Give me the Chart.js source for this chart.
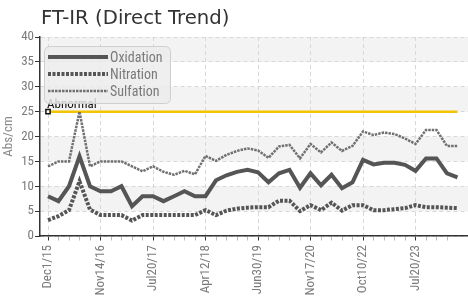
<!DOCTYPE html>
<html>
<head>
<meta charset="utf-8">
<script src="https://cdn.jsdelivr.net/npm/chart.js@4/dist/chart.umd.min.js"></script>
<style>
  html, body { margin: 0; padding: 0; background: #fff; }
  #wrap { position: relative; width: 468px; height: 298px; }
</style>
</head>
<body>
<div id="wrap"><canvas id="c" width="468" height="298"></canvas></div>
<script>
// ---- data ----
const chartTitle = "FT-IR (Direct Trend)";
const yAxisTitle = "Abs/cm";
const seriesNames = ["Oxidation", "Nitration", "Sulfation"];
const tickLabels = ["Dec1/15", "Nov14/16", "Jul20/17", "Apr12/18", "Jun30/19", "Nov17/20", "Oct10/22", "Jul20/23"];
const labelEvery = 5;
const oxidation = [8, 7, 10, 16, 10, 9, 9, 10, 6, 8,
                   8, 7, 8, 9, 8, 8, 11.2, 12.2, 12.9, 13.3,
                   12.8, 10.8, 12.6, 13.3, 9.7, 12.6, 10.2, 12.3, 9.6, 10.8,
                   15.3, 14.4, 14.7, 14.7, 14.3, 13.1, 15.6, 15.6, 12.6, 11.8];
const nitration = [3.2, 4, 5.2, 11, 5.3, 4.2, 4.2, 4.2, 3.1, 4.2,
                   4.2, 4.2, 4.2, 4.2, 4.2, 5.2, 4.2, 5.1, 5.5, 5.7,
                   5.8, 5.8, 7.1, 7.1, 5.0, 6.2, 5.2, 6.7, 5.1, 6.2,
                   6.2, 5.2, 5.2, 5.4, 5.6, 6.2, 5.8, 5.8, 5.7, 5.6];
const sulfation = [14, 15, 15, 25, 14, 15, 15, 15, 14, 13,
                   14, 12.9, 12.3, 13.1, 12.4, 16.1, 15.1, 16.3, 17.1, 17.6,
                   17.2, 15.7, 18, 18.3, 15.6, 18.5, 16.8, 18.8, 17.1, 18.1,
                   21, 20.3, 20.8, 20.5, 19.6, 18.5, 21.3, 21.3, 18.1, 18.1];
const abnormalName = "Abnormal";
const abnormalLimit = 25;

const toXY = arr => arr.map((v, i) => ({ x: i, y: v }));
const nPts = oxidation.length;

const condFont = "'Roboto Condensed', 'DejaVu Sans Condensed', sans-serif";

const bandsPlugin = {
  id: 'bands',
  beforeDraw(chart) {
    const { ctx, chartArea: a, scales: { y } } = chart;
    ctx.save();
    ctx.fillStyle = '#f3f3f3';
    for (let v = 5; v < 40; v += 10) {
      const top = y.getPixelForValue(v + 5), bot = y.getPixelForValue(v);
      ctx.fillRect(a.left, top, a.right - a.left, bot - top);
    }
    ctx.restore();
  }
};

const overlayPlugin = {
  id: 'overlay',
  afterDraw(chart) {
    const { ctx } = chart;
    ctx.save();
    // title
    ctx.fillStyle = '#333';
    ctx.font = "19.7px 'DejaVu Sans', sans-serif";
    ctx.textBaseline = 'alphabetic';
    ctx.textAlign = 'left';
    ctx.fillText(chartTitle, 41, 24);
    // abnormal label
    const x0 = chart.scales.x.getPixelForValue(0);
    const yA = chart.scales.y.getPixelForValue(abnormalLimit);
    ctx.fillStyle = '#111';
    ctx.font = "13px " + condFont;
    ctx.fillText(abnormalName, x0 - 1, yA - 4);
    // legend box
    const bx = 44, by = 46, bw = 126, bh = 57, r = 5;
    ctx.beginPath();
    ctx.roundRect(bx + 0.5, by + 0.5, bw, bh, r);
    ctx.fillStyle = 'rgba(236,236,236,0.82)';
    ctx.fill();
    ctx.strokeStyle = '#cfcfcf';
    ctx.lineWidth = 1;
    ctx.stroke();
    chart.data.datasets.slice(0, 3).forEach((ds, i) => {
      const yy = 57 + i * 17;
      ctx.beginPath();
      ctx.setLineDash(ds.borderDash || []);
      ctx.lineWidth = ds.borderWidth;
      ctx.strokeStyle = ds.borderColor;
      ctx.moveTo(48, yy);
      ctx.lineTo(108, yy);
      ctx.stroke();
      ctx.setLineDash([]);
      ctx.fillStyle = '#7a7a7a';
      ctx.font = "14px " + condFont;
      ctx.textBaseline = 'middle';
      ctx.fillText(ds.label, 110, yy + 1);
    });
    ctx.restore();
  }
};

new Chart(document.getElementById('c'), {
  type: 'line',
  data: {
    datasets: [
      { label: seriesNames[0], data: toXY(oxidation), borderColor: '#555', borderWidth: 4, pointRadius: 0, tension: 0, fill: false },
      { label: seriesNames[1], data: toXY(nitration), borderColor: '#555', borderWidth: 4, borderDash: [3, 1.5], pointRadius: 0, tension: 0, fill: false },
      { label: seriesNames[2], data: toXY(sulfation), borderColor: '#707070', borderWidth: 2.5, borderDash: [2.5, 1], pointRadius: 0, tension: 0, fill: false },
      { label: abnormalName, data: [{ x: 0, y: abnormalLimit }, { x: nPts - 1, y: abnormalLimit }],
        borderColor: '#f5c400', borderWidth: 2.5, pointStyle: 'rect', pointRadius: [3, 0],
        pointBackgroundColor: '#fff', pointBorderColor: '#111', pointBorderWidth: 1.5, fill: false }
    ]
  },
  options: {
    responsive: false,
    animation: false,
    devicePixelRatio: 1,
    layout: { autoPadding: false, padding: { top: 37, right: 0, left: 0, bottom: 0 } },
    plugins: { legend: { display: false }, title: { display: false }, tooltip: { enabled: false } },
    scales: {
      x: {
        type: 'linear', min: -0.762, max: nPts,
        afterBuildTicks(s) { s.ticks = oxidation.map((_, i) => ({ value: i })); },
        afterFit(s) { s.height = 62; s.paddingRight = 0; s.paddingLeft = 0; },
        border: { display: true, color: '#333', width: 1.5, dash: [4, 3] },
        grid: {
          color: c => (c.tick && c.tick.value % labelEvery === 0) ? '#d8d8d8' : 'rgba(0,0,0,0)',
          tickColor: c => (c.tick && c.tick.value % labelEvery === 0) ? '#333' : '#bbb',
          tickLength: 9, tickBorderDash: [4, 30], drawTicks: true, lineWidth: 1
        },
        ticks: {
          autoSkip: false, maxRotation: 90, minRotation: 90, padding: 0,
          color: '#7a7a7a', font: { family: condFont, size: 13 },
          callback: v => (v === nPts - 1) ? null :
            ((v % labelEvery === 0 && v / labelEvery < tickLabels.length) ? tickLabels[v / labelEvery] : '')
        }
      },
      y: {
        min: 0, max: 40,
        afterFit(s) { s.width = 40; },
        border: { display: true, color: '#333', width: 1.5, dash: [4, 3] },
        grid: { color: '#d8d8d8', tickColor: '#333', tickLength: 5, lineWidth: 1 },
        ticks: { stepSize: 5, color: '#7a7a7a', padding: 1, font: { family: condFont, size: 13 } },
        title: { display: true, text: yAxisTitle, color: '#8a8a8a', padding: 1, font: { family: condFont, size: 13 } }
      }
    }
  },
  plugins: [bandsPlugin, overlayPlugin]
});
</script>
</body>
</html>
